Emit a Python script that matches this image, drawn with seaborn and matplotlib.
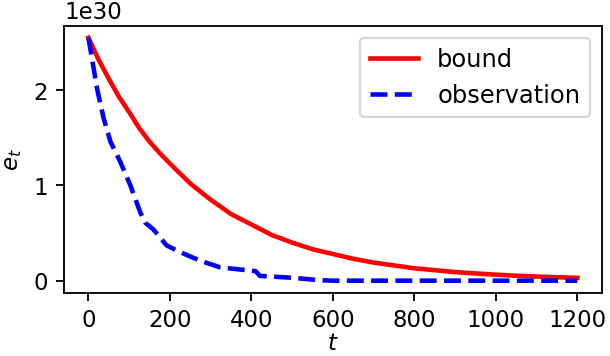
import numpy as np
import pandas as pd
import matplotlib
matplotlib.use('Agg')
import matplotlib.pyplot as plt
import seaborn as sns

# values (units of 1e30)
t_bound = [0, 25, 50, 75, 100, 125, 150, 175, 200, 250, 300, 350, 400, 450, 500, 550, 600,
           650, 700, 750, 800, 850, 900, 950, 1000, 1050, 1100, 1150, 1200]
e_bound = [2.55, 2.32, 2.12, 1.93, 1.77, 1.60, 1.46, 1.34, 1.23, 1.02, 0.85, 0.70, 0.59,
           0.48, 0.40, 0.33, 0.28, 0.23, 0.19, 0.16, 0.13, 0.11, 0.09, 0.076, 0.063,
           0.052, 0.043, 0.036, 0.03]

t_obs = [0, 10, 21, 37, 54, 78, 103, 127, 139, 159, 192, 225, 274, 323, 388, 410,
         421, 502, 567, 600, 700, 800, 900, 1000, 1100, 1200]
e_obs = [2.55, 2.30, 2.02, 1.71, 1.46, 1.25, 1.00, 0.72, 0.61, 0.54, 0.37, 0.30, 0.21,
         0.14, 0.11, 0.10, 0.05, 0.03, 0.005, 0.0, 0.0, 0.0, 0.0, 0.0, 0.0, 0.0]

scale = 1e30
df_b = pd.DataFrame({'t': t_bound, 'e': np.array(e_bound) * scale})
df_o = pd.DataFrame({'t': t_obs, 'e': np.array(e_obs) * scale})

fig, ax = plt.subplots(figsize=(3.7, 2.16), dpi=165)
sns.lineplot(data=df_b, x='t', y='e', color='red', lw=2, label='bound', ax=ax)
sns.lineplot(data=df_o, x='t', y='e', color='blue', lw=2, linestyle='--',
             label='observation', ax=ax)
ax.set_xlabel('$t$', labelpad=0)
ax.set_ylabel('$e_t$')
ax.set_xticks([0, 200, 400, 600, 800, 1000, 1200])
ax.legend(loc='upper right', fontsize=10.5)
plt.tight_layout(pad=0.05)
plt.savefig('out.png', dpi=165)
